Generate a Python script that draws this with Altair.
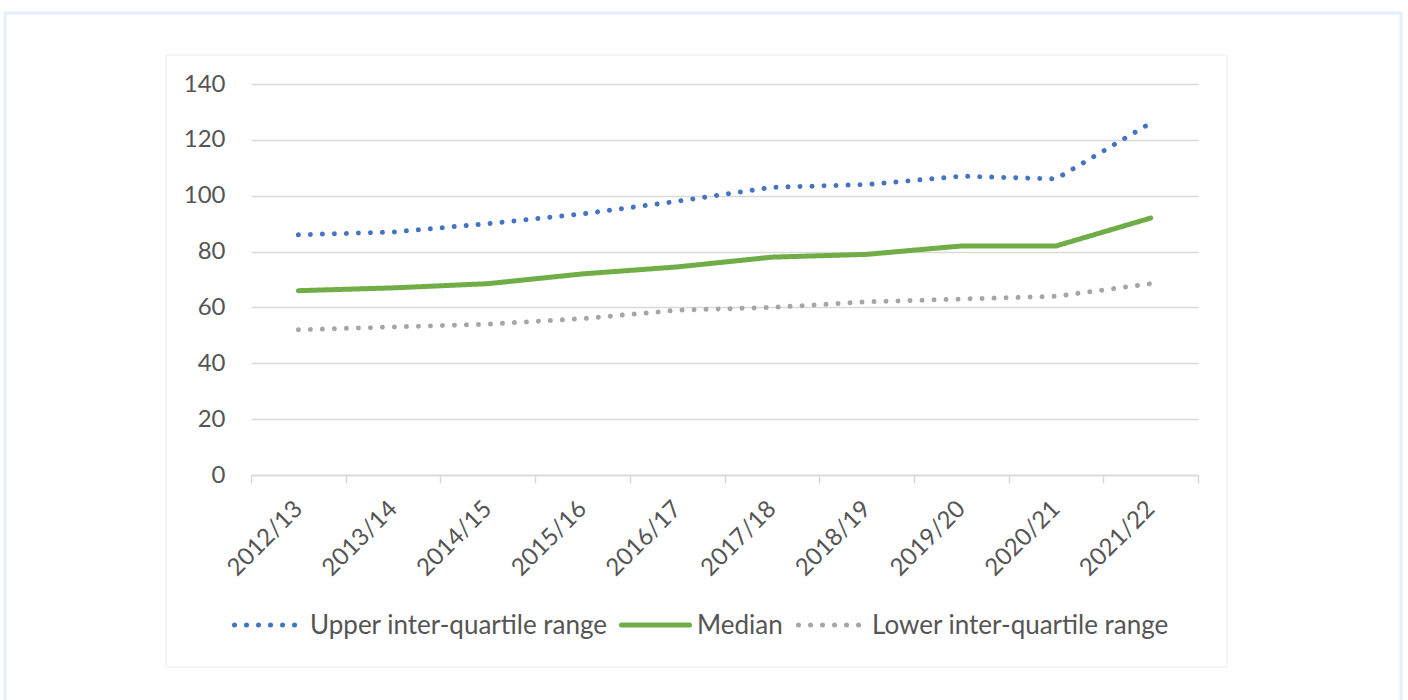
import altair as alt
import pandas as pd

# Academic years on the category axis
years = ["2012/13", "2013/14", "2014/15", "2015/16", "2016/17",
         "2017/18", "2018/19", "2019/20", "2020/21", "2021/22"]

# Series values per year
upper = [86, 87, 90, 93.5, 98, 103, 104, 107, 106, 126]
median = [66, 67, 68.5, 72, 74.5, 78, 79, 82, 82, 92]
lower = [52, 53, 54, 56, 59, 60, 62, 63, 64, 68.5]

series_names = ["Upper inter-quartile range", "Median", "Lower inter-quartile range"]
series_colors = ["#4472C4", "#70AD47", "#A5A5A5"]
series_dash = [[0.01, 12], [1, 0], [0.01, 12]]

y_ticks = [0, 20, 40, 60, 80, 100, 120, 140]

rows = []
for name, vals in zip(series_names, [upper, median, lower]):
    for yr, v in zip(years, vals):
        rows.append({"year": yr, "value": v, "series": name})
df = pd.DataFrame(rows)

W, H = 947, 391
LEFT, TOP = 251, 84
TEXT = "#555555"
GRID = "#d9d9d9"

x_enc = alt.X("year:N", bandPosition=0.5,
              scale=alt.Scale(type="band", domain=years, paddingInner=0, paddingOuter=0),
              axis=alt.Axis(title=None, labelAngle=-45, labelAlign="right", labelBaseline="middle",
                            tickBand="extent", tickSize=8, tickColor=GRID, domainColor=GRID,
                            domainWidth=1.5, tickWidth=1.5, grid=False,
                            labelFontSize=24, labelColor=TEXT, labelPadding=22))
y_enc = alt.Y("value:Q",
              scale=alt.Scale(domain=[0, 140], nice=False, zero=True),
              axis=alt.Axis(title=None, values=y_ticks, grid=True, gridColor=GRID, gridWidth=1.5,
                            domain=False, ticks=False, labelFontSize=24, labelColor=TEXT,
                            labelPadding=26))

lines = alt.Chart(df).mark_line(strokeWidth=5, strokeCap="round", strokeJoin="round").encode(
    x=x_enc,
    y=y_enc,
    color=alt.Color("series:N", scale=alt.Scale(domain=series_names, range=series_colors),
                    legend=None),
    strokeDash=alt.StrokeDash("series:N", scale=alt.Scale(domain=series_names, range=series_dash),
                              legend=None),
)

one = pd.DataFrame({"k": [0]})

# Legend row below the axis: swatch start/end and label start, in page pixels
legend_y = 625
legend_slots = [(234.5, 295.0, 310), (621.5, 689.5, 697), (798.5, 859.0, 872)]
legend_layers = []
for name, color, dash, (sx, sx2, tx) in zip(series_names, series_colors, series_dash, legend_slots):
    legend_layers.append(
        alt.Chart(one).mark_rule(color=color, strokeWidth=5, strokeCap="round",
                                 strokeDash=dash).encode(
            x=alt.value(sx - LEFT), x2=alt.value(sx2 - LEFT), y=alt.value(legend_y - TOP))
    )
    legend_layers.append(
        alt.Chart(one).mark_text(text=name, align="left", baseline="middle",
                                 fontSize=26, color=TEXT).encode(
            x=alt.value(tx - LEFT), y=alt.value(legend_y - TOP + 1))
    )

# light outer panel border
outer = alt.Chart(one).mark_rect(fill="transparent", stroke="#e3f0fb", strokeWidth=3).encode(
    x=alt.value(5 - LEFT), x2=alt.value(1401 - LEFT),
    y=alt.value(13 - TOP), y2=alt.value(720 - TOP),
)
# inner chart-area border
inner = alt.Chart(one).mark_rect(fill="transparent", stroke="#ececec", strokeWidth=1).encode(
    x=alt.value(166 - LEFT), x2=alt.value(1227 - LEFT),
    y=alt.value(55 - TOP), y2=alt.value(667 - TOP),
)

chart = alt.layer(outer, inner, lines, *legend_layers).properties(
    width=W, height=H,
    autosize=alt.AutoSizeParams(type="none"),
    padding={"left": LEFT, "top": TOP, "right": 1408 - LEFT - W, "bottom": 700 - TOP - H},
    background="white",
).configure(font="Lato").configure_view(stroke=None)

chart.save("out.html", embed_options={"renderer": "svg", "actions": False})
